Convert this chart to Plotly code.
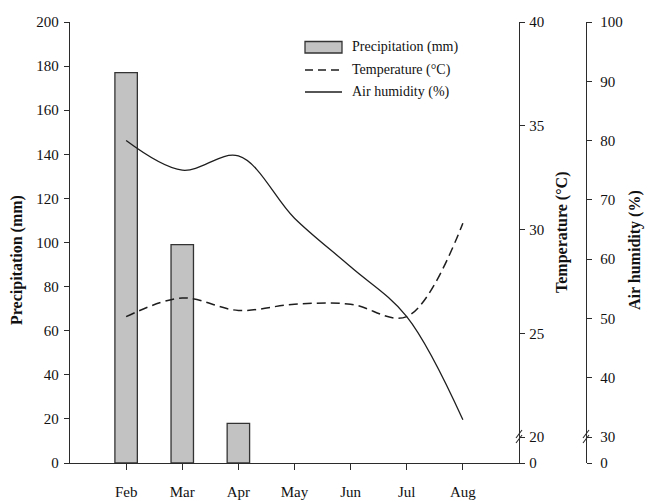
import plotly.graph_objects as go

months = ["Feb", "Mar", "Apr", "May", "Jun", "Jul", "Aug"]
precipitation = [177, 99, 18, None, None, None, None]
temperature = [25.8, 26.7, 26.1, 26.4, 26.4, 25.8, 30.3]
humidity = [80.0, 75.0, 77.4, 66.9, 58.7, 50.3, 32.9]

precip_ticks = [0, 20, 40, 60, 80, 100, 120, 140, 160, 180, 200]
temp_ticks = [20, 25, 30, 35, 40]
hum_ticks = [30, 40, 50, 60, 70, 80, 90, 100]

W, H = 649, 502
L, R, T, B = 70, 63, 22, 39
PW, PH = W - L - R, H - T - B
X_END = 519
XD = (X_END - L) / PW
GAP = 26 / PH  # fraction of height used by axis break


def zero_pos(lo, hi):
    return (lo - GAP * hi) / (1 - GAP)


t0 = zero_pos(temp_ticks[0], temp_ticks[-1])
h0 = zero_pos(hum_ticks[0], hum_ticks[-1])

FONT = "Liberation Serif"
AX = "#2b2b2b"
INK = "#1e1e1e"

fig = go.Figure()
fig.add_trace(go.Bar(x=months, y=precipitation, width=0.4,
                     marker=dict(color="#c2c2c2", line=dict(color="#333333", width=1.3)),
                     showlegend=False, yaxis="y"))
fig.add_trace(go.Scatter(x=months, y=temperature, mode="lines", yaxis="y2",
                         line=dict(color=INK, width=1.5, dash="9px,5px", shape="spline"),
                         showlegend=False))
fig.add_trace(go.Scatter(x=months, y=humidity, mode="lines", yaxis="y3",
                         line=dict(color=INK, width=1.3, shape="spline"),
                         showlegend=False))

tickfont = dict(family=FONT, size=15, color="#111")

fig.update_layout(
    width=W, height=H, margin=dict(l=L, r=R, t=T, b=B, autoexpand=False),
    plot_bgcolor="white", paper_bgcolor="white",
    font=dict(family=FONT, size=15, color="#111"),
    xaxis=dict(domain=[0, XD], range=[-1, 7], type="category", categoryarray=months,
               showline=True, linecolor=AX, linewidth=1.3, ticks="outside", ticklen=6,
               tickcolor=AX, tickwidth=1.2, showgrid=False, zeroline=False,
               tickfont=tickfont, ticklabelstandoff=9, automargin=False),
    yaxis=dict(range=[0, 200], tickvals=precip_ticks, showline=True, linecolor=AX,
               linewidth=1.3, ticks="outside", ticklen=5, tickcolor=AX, tickwidth=1.2,
               showgrid=False, zeroline=False, tickfont=tickfont, ticklabelstandoff=2,
               automargin=False),
    yaxis2=dict(range=[t0, temp_ticks[-1]], overlaying="y", side="right", anchor="x",
                tickvals=[t0] + temp_ticks, ticktext=["0"] + [str(v) for v in temp_ticks],
                showline=True, linecolor=AX, linewidth=1.3, ticks="outside", ticklen=5,
                tickcolor=AX, tickwidth=1.2, showgrid=False, zeroline=False,
                tickfont=tickfont, ticklabelstandoff=1, automargin=False),
    yaxis3=dict(range=[h0, hum_ticks[-1]], overlaying="y", side="right", anchor="free",
                position=1.0,
                tickvals=[h0] + hum_ticks, ticktext=["0"] + [str(v) for v in hum_ticks],
                showline=True, linecolor=AX, linewidth=1.3, ticks="outside", ticklen=5,
                tickcolor=AX, tickwidth=1.2, showgrid=False, zeroline=False,
                tickfont=tickfont, ticklabelstandoff=5, automargin=False),
)


def px(x):
    return (x - L) / PW


def py(y):
    return (H - B - y) / PH


# axis break marks
for ax_x in (X_END, W - R):
    for dy in (-3, 2):
        yc = H - B - 26 + dy
        fig.add_shape(type="line", xref="paper", yref="paper",
                      x0=px(ax_x - 3), y0=py(yc + 4), x1=px(ax_x + 3), y1=py(yc - 4),
                      line=dict(color=AX, width=1.1))

# axis titles
titles = [("Precipitation (mm)", 17, 260), ("Temperature (°C)", 562, 233),
          ("Air humidity (%)", 635, 250)]
for text, tx, ty in titles:
    fig.add_annotation(text=f"<b>{text}</b>", xref="paper", yref="paper",
                       x=px(tx), y=py(ty), textangle=-90, showarrow=False,
                       font=dict(family=FONT, size=16, color="#111"),
                       xanchor="center", yanchor="middle")

# legend
lx0, lx1, tx = 305, 342, 350
rows = [("Precipitation (mm)", 47), ("Temperature (°C)", 70), ("Air humidity (%)", 92)]
fig.add_shape(type="rect", xref="paper", yref="paper",
              x0=px(lx0), x1=px(lx1), y0=py(53), y1=py(41.5),
              fillcolor="#c2c2c2", line=dict(color="#333333", width=1.3))
fig.add_shape(type="line", xref="paper", yref="paper", x0=px(lx0), x1=px(lx1),
              y0=py(70), y1=py(70), line=dict(color=INK, width=1.5, dash="8px,5px"))
fig.add_shape(type="line", xref="paper", yref="paper", x0=px(lx0), x1=px(lx1),
              y0=py(92), y1=py(92), line=dict(color=INK, width=1.3))
for text, ry in rows:
    fig.add_annotation(text=text, xref="paper", yref="paper", x=px(tx), y=py(ry),
                       showarrow=False, xanchor="left", yanchor="middle",
                       font=dict(family=FONT, size=14, color="#111"))

fig.write_html("out.html", config={"displayModeBar": False},
               post_script="document.body.style.margin='0';")
